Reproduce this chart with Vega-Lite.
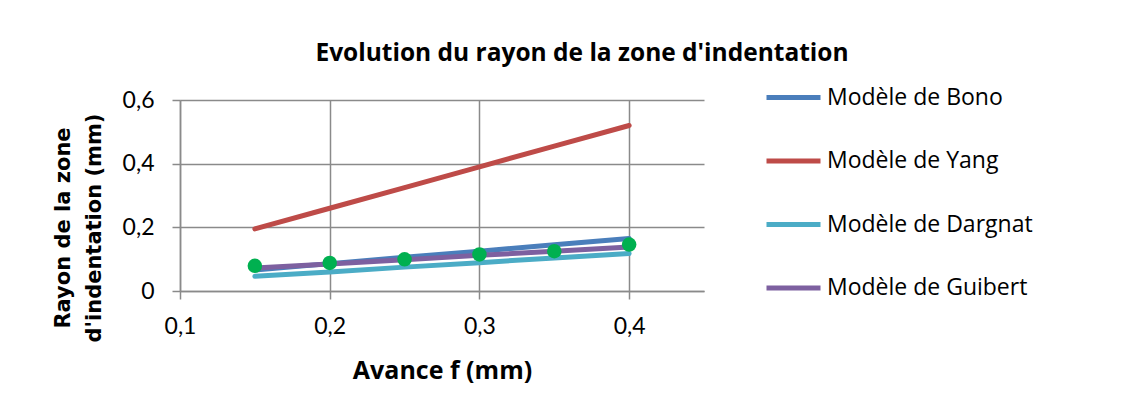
{
  "$schema": "https://vega.github.io/schema/vega-lite/v6.json",
  "width": 524,
  "height": 191,
  "autosize": "none",
  "padding": {"left": 180, "top": 100, "right": 440, "bottom": 117},
  "background": "white",
  "title": {
    "text": "Evolution du rayon de la zone d'indentation",
    "font": "Open Sans",
    "fontSize": 24.5,
    "fontWeight": "bold",
    "color": "black",
    "anchor": "middle",
    "frame": "group",
    "dx": 140,
    "offset": 2
  },
  "config": {
    "view": {"stroke": null},
    "axis": {
      "gridColor": "#8a8a8a",
      "gridWidth": 1.5,
      "domainColor": "#8a8a8a",
      "domainWidth": 1.5,
      "tickColor": "#8a8a8a",
      "tickWidth": 1.5,
      "tickSize": 8,
      "labelFont": "Lato",
      "labelFontSize": 23,
      "labelColor": "black",
      "titleColor": "black"
    }
  },
  "datasets": {
    "lines": [
      {"f": 0.15, "r": 0.066, "modele": "Modèle de Bono"},
      {"f": 0.2, "r": 0.086, "modele": "Modèle de Bono"},
      {"f": 0.25, "r": 0.106, "modele": "Modèle de Bono"},
      {"f": 0.3, "r": 0.125, "modele": "Modèle de Bono"},
      {"f": 0.35, "r": 0.145, "modele": "Modèle de Bono"},
      {"f": 0.4, "r": 0.165, "modele": "Modèle de Bono"},
      {"f": 0.15, "r": 0.195, "modele": "Modèle de Yang"},
      {"f": 0.2, "r": 0.26, "modele": "Modèle de Yang"},
      {"f": 0.25, "r": 0.325, "modele": "Modèle de Yang"},
      {"f": 0.3, "r": 0.39, "modele": "Modèle de Yang"},
      {"f": 0.35, "r": 0.455, "modele": "Modèle de Yang"},
      {"f": 0.4, "r": 0.52, "modele": "Modèle de Yang"},
      {"f": 0.15, "r": 0.046, "modele": "Modèle de Dargnat"},
      {"f": 0.2, "r": 0.06, "modele": "Modèle de Dargnat"},
      {"f": 0.25, "r": 0.075, "modele": "Modèle de Dargnat"},
      {"f": 0.3, "r": 0.089, "modele": "Modèle de Dargnat"},
      {"f": 0.35, "r": 0.104, "modele": "Modèle de Dargnat"},
      {"f": 0.4, "r": 0.118, "modele": "Modèle de Dargnat"},
      {"f": 0.15, "r": 0.072, "modele": "Modèle de Guibert"},
      {"f": 0.2, "r": 0.085, "modele": "Modèle de Guibert"},
      {"f": 0.25, "r": 0.098, "modele": "Modèle de Guibert"},
      {"f": 0.3, "r": 0.112, "modele": "Modèle de Guibert"},
      {"f": 0.35, "r": 0.125, "modele": "Modèle de Guibert"},
      {"f": 0.4, "r": 0.138, "modele": "Modèle de Guibert"}
    ],
    "points": [
      {"f": 0.15, "r": 0.079},
      {"f": 0.2, "r": 0.088},
      {"f": 0.25, "r": 0.0995},
      {"f": 0.3, "r": 0.115},
      {"f": 0.35, "r": 0.125},
      {"f": 0.4, "r": 0.146}
    ]
  },
  "layer": [
    {
      "data": {"name": "lines"},
      "mark": {"type": "line", "strokeWidth": 5, "strokeCap": "round"},
      "encoding": {
        "x": {
          "field": "f",
          "type": "quantitative",
          "scale": {"domain": [0.1, 0.45], "nice": false, "zero": false},
          "axis": {
            "values": [0.1, 0.2, 0.3, 0.4],
            "labelExpr": "replace(format(datum.value, '.1f'), '.', ',')",
            "labelPadding": 16,
            "labelFlush": false,
            "title": "Avance f (mm)",
            "titleFont": "Open Sans",
            "titleFontSize": 25,
            "titleFontWeight": "bold",
            "titleBaseline": "top",
            "titleY": 67,
            "titleX": 262,
            "titleAlign": "center"
          }
        },
        "y": {
          "field": "r",
          "type": "quantitative",
          "scale": {"domain": [0, 0.6], "nice": false},
          "axis": {
            "values": [0, 0.2, 0.4, 0.6],
            "labelExpr": "datum.value == 0 ? '0' : replace(format(datum.value, '.1f'), '.', ',')",
            "labelPadding": 18,
            "labelFlush": false,
            "title": ["Rayon de la zone", "d'indentation (mm)"],
            "titleFont": "DejaVu Sans",
            "titleFontSize": 21,
            "titleFontWeight": "bold",
            "titleLineHeight": 31.5,
            "titleAngle": 270,
            "titleAlign": "center",
            "titleBaseline": "middle",
            "titleX": -117,
            "titleY": 127.5
          }
        },
        "color": {
          "field": "modele",
          "type": "nominal",
          "sort": ["Modèle de Bono", "Modèle de Yang", "Modèle de Dargnat", "Modèle de Guibert"],
          "scale": {
            "domain": ["Modèle de Bono", "Modèle de Yang", "Modèle de Dargnat", "Modèle de Guibert"],
            "range": ["#4A7EBB", "#BE4B48", "#4BACC6", "#7D60A0"]
          },
          "legend": {
            "orient": "none",
            "legendX": 584,
            "legendY": -32,
            "title": null,
            "direction": "vertical",
            "symbolType": "stroke",
            "symbolSize": 2916,
            "symbolStrokeWidth": 5,
            "labelFont": "Open Sans",
            "labelFontSize": 23,
            "labelColor": "black",
            "labelLimit": 400,
            "labelOffset": 4,
            "rowPadding": 21.5
          }
        }
      }
    },
    {
      "data": {"name": "points"},
      "mark": {"type": "point", "filled": true, "size": 210, "opacity": 1, "color": "#00B050"},
      "encoding": {
        "x": {"field": "f", "type": "quantitative"},
        "y": {"field": "r", "type": "quantitative"}
      }
    }
  ]
}
